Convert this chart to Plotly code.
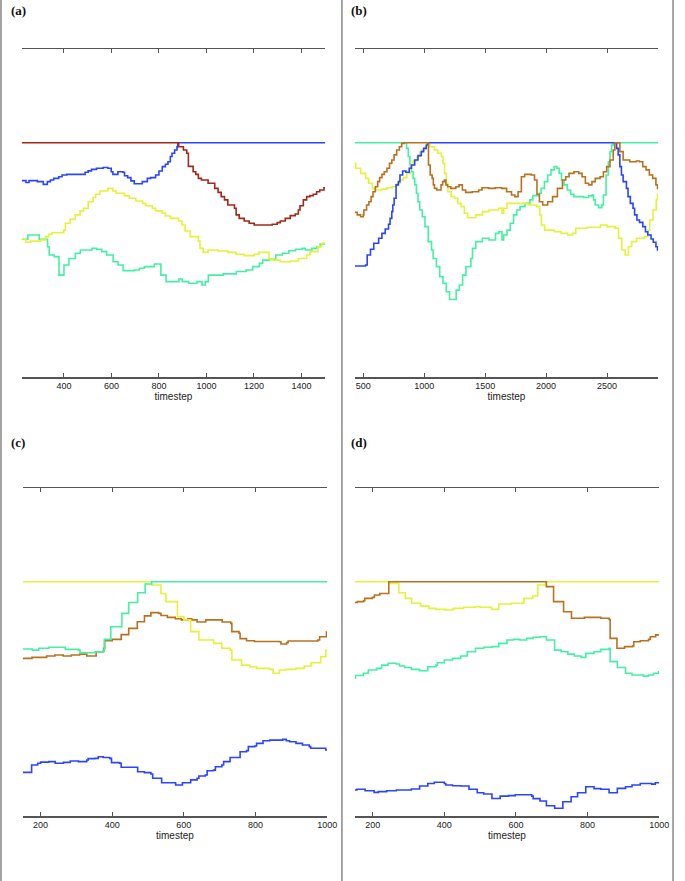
import plotly.graph_objects as go

# ---------------- colours ----------------
BLUE = "#2a44ff"
GREEN = "#44f0a4"
YELLOW = "#e4f23a"
BROWN = "#b8721f"
RED = "#a3281a"

# ---------------- panel (a) ----------------
a_blue_t = [222, 240, 253, 281, 288, 302, 313, 330, 343, 357, 378, 392, 412, 468, 489, 502, 516, 537, 565, 585,
            599, 606, 627, 648, 655, 668, 682, 696, 717, 730, 751, 765, 786, 800, 814, 827, 838, 848, 855, 866,
            876, 879, 1500]
a_blue_v = [0.838, 0.830, 0.838, 0.838, 0.834, 0.834, 0.822, 0.834, 0.841, 0.848, 0.855, 0.862, 0.865, 0.865, 0.874,
            0.880, 0.886, 0.891, 0.894, 0.891, 0.876, 0.865, 0.876, 0.874, 0.859, 0.851, 0.837, 0.825, 0.825, 0.834,
            0.848, 0.851, 0.862, 0.879, 0.898, 0.908, 0.919, 0.941, 0.955, 0.969, 0.983, 1.0, 1.0]

a_red_t = [222, 879, 883, 903, 917, 924, 944, 955, 966, 979, 1007, 1035, 1049, 1062, 1076, 1090, 1118, 1125, 1138,
           1159, 1180, 1201, 1277, 1298, 1311, 1332, 1353, 1374, 1387, 1394, 1408, 1422, 1436, 1450, 1464, 1477,
           1495, 1500]
a_red_v = [1.0, 1.0, 0.983, 0.969, 0.955, 0.899, 0.876, 0.865, 0.848, 0.841, 0.827, 0.805, 0.788, 0.770, 0.756,
           0.734, 0.720, 0.692, 0.677, 0.666, 0.656, 0.649, 0.652, 0.659, 0.666, 0.677, 0.689, 0.696, 0.713, 0.731,
           0.756, 0.770, 0.774, 0.780, 0.791, 0.798, 0.808, 0.808]

a_yellow_t = [222, 240, 260, 302, 323, 336, 350, 399, 406, 426, 447, 468, 482, 502, 523, 533, 551, 585, 606, 620,
              655, 675, 703, 731, 744, 772, 786, 814, 827, 848, 883, 897, 910, 931, 966, 973, 986, 1007, 1049, 1090,
              1125, 1159, 1201, 1222, 1263, 1277, 1311, 1353, 1387, 1422, 1436, 1470, 1484, 1500]
a_yellow_v = [0.589, 0.575, 0.580, 0.585, 0.599, 0.609, 0.616, 0.627, 0.656, 0.674, 0.692, 0.709, 0.720, 0.748,
              0.766, 0.780, 0.794, 0.805, 0.794, 0.784, 0.773, 0.763, 0.751, 0.741, 0.731, 0.720, 0.709, 0.699,
              0.687, 0.677, 0.666, 0.649, 0.623, 0.599, 0.580, 0.549, 0.532, 0.542, 0.538, 0.532, 0.524, 0.518,
              0.524, 0.532, 0.504, 0.499, 0.492, 0.495, 0.506, 0.521, 0.535, 0.556, 0.571, 0.571]

a_green_t = [222, 248, 296, 331, 338, 359, 379, 400, 421, 448, 469, 518, 538, 559, 580, 607, 628, 649, 697, 718,
             739, 780, 808, 830, 884, 898, 925, 960, 981, 995, 1008, 1071, 1126, 1167, 1195, 1223, 1237, 1264, 1292,
             1320, 1347, 1375, 1403, 1416, 1444, 1465, 1479, 1500]
a_green_v = [0.588, 0.606, 0.588, 0.556, 0.521, 0.514, 0.435, 0.478, 0.506, 0.528, 0.542, 0.549, 0.545, 0.535,
             0.521, 0.492, 0.478, 0.454, 0.457, 0.464, 0.471, 0.482, 0.435, 0.407, 0.418, 0.407, 0.400, 0.407,
             0.393, 0.407, 0.435, 0.440, 0.450, 0.457, 0.471, 0.485, 0.499, 0.502, 0.521, 0.528, 0.539, 0.545,
             0.549, 0.542, 0.549, 0.556, 0.568, 0.573]

# ---------------- panel (b) ----------------
b_blue_t = [430, 519, 532, 559, 586, 626, 653, 680, 707, 720, 734, 742, 753, 769, 788, 801, 823, 850, 877, 895,
            922, 949, 976, 995, 1017, 1030, 2564, 2578, 2591, 2605, 2618, 2632, 2659, 2672, 2691, 2713, 2726, 2745,
            2766, 2793, 2815, 2834, 2861, 2879, 2901, 2914, 2920]
b_blue_v = [0.474, 0.478, 0.521, 0.545, 0.571, 0.592, 0.613, 0.632, 0.652, 0.677, 0.706, 0.734, 0.763, 0.820,
            0.834, 0.862, 0.879, 0.874, 0.891, 0.905, 0.926, 0.945, 0.962, 0.976, 0.990, 1.0, 1.0, 0.976, 0.948,
            0.898, 0.862, 0.834, 0.805, 0.770, 0.741, 0.720, 0.692, 0.670, 0.660, 0.642, 0.620, 0.606, 0.589,
            0.575, 0.556, 0.542, 0.542]

b_brown_t = [430, 451, 478, 500, 505, 527, 546, 564, 580, 599, 618, 634, 653, 672, 694, 715, 734, 753, 774, 796,
             815, 834, 1035, 1049, 1065, 1075, 1084, 1103, 1138, 1151, 1165, 1178, 1192, 1218, 1259, 1286, 1313,
             1340, 1393, 1447, 1474, 1528, 1582, 1636, 1676, 1716, 1743, 1770, 1797, 1824, 1878, 1905, 1925, 1945,
             1972, 2013, 2053, 2093, 2134, 2161, 2188, 2228, 2268, 2295, 2322, 2349, 2376, 2403, 2443, 2470, 2497,
             2524, 2551, 2564, 2591, 2605, 2632, 2686, 2740, 2766, 2793, 2820, 2847, 2874, 2901, 2914, 2920]
b_brown_v = [0.703, 0.692, 0.684, 0.692, 0.713, 0.734, 0.748, 0.770, 0.791, 0.812, 0.834, 0.851, 0.865, 0.876,
             0.891, 0.912, 0.926, 0.948, 0.969, 0.983, 0.997, 1.0, 0.905, 0.862, 0.848, 0.820, 0.805, 0.798, 0.820,
             0.834, 0.841, 0.820, 0.812, 0.805, 0.812, 0.820, 0.798, 0.788, 0.791, 0.798, 0.808, 0.805, 0.808,
             0.805, 0.791, 0.777, 0.770, 0.791, 0.855, 0.865, 0.862, 0.841, 0.780, 0.748, 0.734, 0.748, 0.770,
             0.805, 0.841, 0.855, 0.869, 0.876, 0.869, 0.855, 0.827, 0.820, 0.834, 0.848, 0.855, 0.876, 0.898,
             0.926, 0.969, 1.0, 1.0, 0.962, 0.926, 0.919, 0.922, 0.919, 0.898, 0.884, 0.862, 0.848, 0.820, 0.805,
             0.805]

b_green_t = [430, 855, 869, 882, 895, 909, 922, 936, 949, 963, 984, 1006, 1033, 1060, 1073, 1100, 1127, 1154, 1181,
             1208, 1262, 1288, 1315, 1342, 1383, 1396, 1423, 1477, 1531, 1585, 1612, 1638, 1652, 1679, 1706, 1733,
             1760, 1786, 1827, 1867, 1891, 1945, 1959, 1986, 2013, 2040, 2066, 2088, 2107, 2126, 2147, 2174, 2201,
             2228, 2309, 2349, 2376, 2389, 2403, 2430, 2457, 2470, 2492, 2511, 2524, 2537, 2551, 2920]
b_green_v = [1.0, 0.976, 0.941, 0.905, 0.876, 0.848, 0.820, 0.784, 0.748, 0.713, 0.684, 0.642, 0.578, 0.542, 0.506,
             0.471, 0.428, 0.400, 0.364, 0.331, 0.371, 0.393, 0.435, 0.471, 0.506, 0.549, 0.578, 0.592, 0.585,
             0.613, 0.620, 0.585, 0.606, 0.627, 0.656, 0.692, 0.713, 0.727, 0.741, 0.756, 0.774, 0.784, 0.805,
             0.834, 0.862, 0.884, 0.898, 0.891, 0.869, 0.841, 0.820, 0.798, 0.780, 0.770, 0.766, 0.773, 0.777,
             0.756, 0.734, 0.723, 0.734, 0.777, 0.862, 0.919, 0.962, 0.990, 1.0, 1.0]

b_yellow_t = [430, 438, 478, 519, 545, 575, 599, 653, 694, 737, 774, 801, 828, 858, 885, 909, 939, 963, 979, 1006,
              1019, 1046, 1084, 1111, 1140, 1154, 1167, 1181, 1194, 1221, 1248, 1275, 1302, 1329, 1356, 1423, 1477,
              1531, 1612, 1638, 1652, 1679, 1773, 1854, 1921, 1948, 1962, 1988, 2069, 2123, 2177, 2217, 2244, 2338,
              2446, 2500, 2567, 2594, 2621, 2648, 2675, 2702, 2742, 2809, 2836, 2850, 2877, 2904, 2914, 2920]
b_yellow_v = [0.912, 0.891, 0.869, 0.848, 0.827, 0.805, 0.798, 0.802, 0.808, 0.812, 0.827, 0.841, 0.851, 0.869,
              0.905, 0.922, 0.941, 0.959, 0.969, 0.983, 0.995, 0.983, 0.969, 0.955, 0.941, 0.912, 0.869, 0.827,
              0.791, 0.770, 0.763, 0.741, 0.727, 0.699, 0.680, 0.692, 0.706, 0.713, 0.720, 0.699, 0.720, 0.741,
              0.741, 0.734, 0.727, 0.692, 0.649, 0.627, 0.620, 0.613, 0.606, 0.613, 0.635, 0.639, 0.649, 0.642,
              0.635, 0.592, 0.542, 0.521, 0.556, 0.578, 0.592, 0.599, 0.627, 0.670, 0.713, 0.756, 0.780, 0.780]

# ---------------- panel (c) ----------------
c_green_t = [150, 177, 195, 223, 269, 306, 310, 352, 375, 378, 396, 427, 446, 471, 492, 510, 1000]
c_green_v = [0.713, 0.708, 0.716, 0.720, 0.711, 0.708, 0.697, 0.701, 0.708, 0.754, 0.808, 0.865, 0.911, 0.953,
             0.990, 1.0, 1.0]

c_yellow_t = [150, 510, 536, 550, 582, 600, 619, 642, 683, 706, 729, 734, 761, 784, 803, 840, 849, 867, 886, 913,
              936, 955, 982, 996, 1000]
c_yellow_v = [1.0, 0.986, 0.950, 0.915, 0.851, 0.837, 0.787, 0.751, 0.737, 0.716, 0.708, 0.666, 0.644, 0.637,
              0.630, 0.626, 0.609, 0.623, 0.626, 0.630, 0.640, 0.654, 0.680, 0.708, 0.708]

c_brown_t = [150, 176, 217, 240, 263, 286, 309, 329, 355, 376, 379, 400, 425, 446, 470, 490, 508, 530, 536, 554,
             576, 593, 611, 622, 637, 661, 687, 707, 731, 734, 754, 757, 775, 797, 866, 871, 887, 891, 935, 974,
             979, 998, 1000]
c_brown_v = [0.673, 0.677, 0.683, 0.687, 0.683, 0.687, 0.691, 0.683, 0.701, 0.716, 0.748, 0.754, 0.774, 0.801,
             0.829, 0.854, 0.868, 0.865, 0.856, 0.848, 0.842, 0.837, 0.842, 0.837, 0.828, 0.837, 0.837, 0.828,
             0.822, 0.787, 0.780, 0.757, 0.748, 0.745, 0.744, 0.734, 0.740, 0.747, 0.747, 0.751, 0.765, 0.785,
             0.785]

c_blue_t = [150, 175, 192, 200, 223, 241, 264, 283, 306, 329, 333, 352, 361, 375, 393, 398, 421, 425, 467, 471,
            490, 508, 513, 536, 538, 573, 577, 591, 596, 614, 619, 637, 642, 660, 665, 683, 688, 706, 711, 729,
            752, 757, 775, 780, 798, 803, 821, 840, 876, 886, 895, 913, 931, 950, 954, 996, 1000]
c_blue_v = [0.186, 0.218, 0.225, 0.230, 0.232, 0.225, 0.229, 0.235, 0.232, 0.239, 0.245, 0.246, 0.253, 0.250,
            0.246, 0.228, 0.225, 0.208, 0.208, 0.189, 0.185, 0.179, 0.161, 0.161, 0.142, 0.142, 0.132, 0.132,
            0.142, 0.142, 0.154, 0.161, 0.171, 0.175, 0.193, 0.196, 0.210, 0.218, 0.232, 0.250, 0.250, 0.274,
            0.279, 0.296, 0.299, 0.310, 0.321, 0.324, 0.327, 0.321, 0.317, 0.310, 0.303, 0.296, 0.289, 0.282,
            0.282]

# ---------------- panel (d) ----------------
d_yellow_t = [150, 247, 273, 291, 309, 334, 357, 376, 403, 422, 426, 454, 486, 500, 532, 552, 587, 622, 647, 661,
              684, 1000]
d_yellow_v = [1.0, 0.993, 0.953, 0.929, 0.908, 0.896, 0.886, 0.882, 0.879, 0.882, 0.886, 0.891, 0.893, 0.891,
              0.882, 0.905, 0.908, 0.929, 0.939, 0.986, 1.0, 1.0]

d_brown_t = [150, 157, 175, 178, 199, 205, 220, 245, 685, 705, 733, 755, 791, 837, 860, 863, 882, 903, 926, 929,
             947, 970, 975, 990, 1000]
d_brown_v = [0.911, 0.915, 0.919, 0.929, 0.933, 0.943, 0.950, 1.0, 0.979, 0.915, 0.872, 0.844, 0.848, 0.844,
             0.839, 0.758, 0.716, 0.723, 0.726, 0.744, 0.748, 0.754, 0.765, 0.773, 0.773]

d_green_t = [150, 152, 174, 188, 211, 225, 243, 266, 275, 289, 308, 331, 354, 377, 381, 400, 423, 446, 464, 487,
             510, 533, 552, 575, 593, 611, 630, 648, 667, 685, 708, 726, 745, 763, 782, 795, 818, 837, 860, 863,
             883, 906, 924, 956, 970, 984, 998, 1000]
d_green_v = [0.588, 0.600, 0.609, 0.623, 0.630, 0.644, 0.652, 0.649, 0.640, 0.634, 0.626, 0.620, 0.637, 0.644,
             0.654, 0.666, 0.673, 0.683, 0.701, 0.716, 0.720, 0.723, 0.737, 0.751, 0.754, 0.751, 0.758, 0.763,
             0.765, 0.751, 0.708, 0.701, 0.691, 0.683, 0.677, 0.694, 0.701, 0.711, 0.716, 0.659, 0.634, 0.609,
             0.602, 0.597, 0.602, 0.609, 0.616, 0.616]

d_blue_t = [150, 156, 179, 204, 216, 239, 266, 298, 308, 331, 354, 372, 400, 404, 423, 446, 469, 492, 510, 533,
            556, 579, 598, 644, 648, 667, 685, 708, 731, 754, 772, 795, 818, 837, 860, 883, 906, 924, 947, 979,
            989, 1000]
d_blue_v = [0.111, 0.114, 0.108, 0.101, 0.104, 0.108, 0.111, 0.111, 0.115, 0.128, 0.139, 0.144, 0.139, 0.132,
            0.129, 0.128, 0.114, 0.099, 0.094, 0.075, 0.085, 0.087, 0.091, 0.085, 0.074, 0.064, 0.044, 0.033,
            0.061, 0.082, 0.099, 0.125, 0.117, 0.114, 0.099, 0.118, 0.125, 0.132, 0.139, 0.136, 0.142, 0.142]

# ---------------- axes setup ----------------
a_range = [222, 1500]
b_range = [430, 2920]
c_range = [150, 1000]
d_range = [150, 1000]
a_ticks = [400, 600, 800, 1000, 1200, 1400]
b_ticks = [500, 1000, 1500, 2000, 2500]
c_ticks = [200, 400, 600, 800, 1000]
d_ticks = [200, 400, 600, 800, 1000]
y_range = [0, 1.4]
panel_labels = ["(a)", "(b)", "(c)", "(d)"]

W, H = 685, 881

panels = [
    ("x", "y", [(a_green_t, a_green_v, GREEN), (a_yellow_t, a_yellow_v, YELLOW),
                (a_blue_t, a_blue_v, BLUE), (a_red_t, a_red_v, RED)]),
    ("x2", "y2", [(b_green_t, b_green_v, GREEN), (b_yellow_t, b_yellow_v, YELLOW),
                  (b_blue_t, b_blue_v, BLUE), (b_brown_t, b_brown_v, BROWN)]),
    ("x3", "y3", [(c_brown_t, c_brown_v, BROWN), (c_yellow_t, c_yellow_v, YELLOW),
                  (c_green_t, c_green_v, GREEN), (c_blue_t, c_blue_v, BLUE)]),
    ("x4", "y4", [(d_green_t, d_green_v, GREEN), (d_blue_t, d_blue_v, BLUE),
                  (d_yellow_t, d_yellow_v, YELLOW), (d_brown_t, d_brown_v, BROWN)]),
]

fig = go.Figure()
for xa, ya, series in panels:
    for t, v, c in series:
        fig.add_trace(go.Scatter(x=t, y=v, mode="lines",
                                 line=dict(color=c, width=1.6, shape="hv"),
                                 xaxis=xa, yaxis=ya, showlegend=False, hoverinfo="skip"))


def px_x(p):
    return p / W


def px_y(p):
    return 1 - p / H


def xaxis(domain, rng, ticks, anchor):
    return dict(domain=domain, range=rng, anchor=anchor, tickmode="array", tickvals=ticks,
                ticktext=[str(v) for v in ticks], ticks="inside", ticklen=4, tickwidth=1,
                tickcolor="#555", showline=True, linecolor="#555", linewidth=1.5, mirror="ticks",
                showgrid=False, zeroline=False,
                tickfont=dict(family="Liberation Sans, Arial, sans-serif", size=9, color="#222"),
                title=dict(text="timestep", standoff=1,
                           font=dict(family="Liberation Sans, Arial, sans-serif", size=10, color="#222")))


def yaxis(domain, anchor):
    return dict(domain=domain, range=y_range, anchor=anchor, visible=False, fixedrange=True)


top_dom = [px_y(377), px_y(49)]
bot_dom = [px_y(816), px_y(488)]

fig.update_layout(
    width=W, height=H, autosize=False,
    margin=dict(l=0, r=0, t=0, b=0),
    paper_bgcolor="white", plot_bgcolor="white",
    xaxis=xaxis([px_x(22), px_x(330)], a_range, a_ticks, "y"),
    yaxis=yaxis(top_dom, "x"),
    xaxis2=xaxis([px_x(360), px_x(668)], b_range, b_ticks, "y2"),
    yaxis2=yaxis(top_dom, "x2"),
    xaxis3=xaxis([px_x(23), px_x(332)], c_range, c_ticks, "y3"),
    yaxis3=yaxis(bot_dom, "x3"),
    xaxis4=xaxis([px_x(360), px_x(669)], d_range, d_ticks, "y4"),
    yaxis4=yaxis(bot_dom, "x4"),
)

label_pos = [(9, 10), (354, 10), (9, 442), (354, 442)]
for txt, (lx, ly) in zip(panel_labels, label_pos):
    fig.add_annotation(text="<b>" + txt + "</b>", xref="paper", yref="paper",
                       x=px_x(lx), y=px_y(ly), xanchor="left", yanchor="middle", showarrow=False,
                       font=dict(family="Liberation Serif, Times New Roman, serif", size=13, color="#111"))

for vx in [1, 347, 683]:
    fig.add_shape(type="line", xref="paper", yref="paper", x0=px_x(vx), x1=px_x(vx), y0=0, y1=1,
                  line=dict(color="#888", width=1.5))

fig.write_html("out.html",
               config={"responsive": False, "displayModeBar": False, "staticPlot": True},
               post_script="document.body.style.margin='0px';document.body.style.overflow='hidden';")
